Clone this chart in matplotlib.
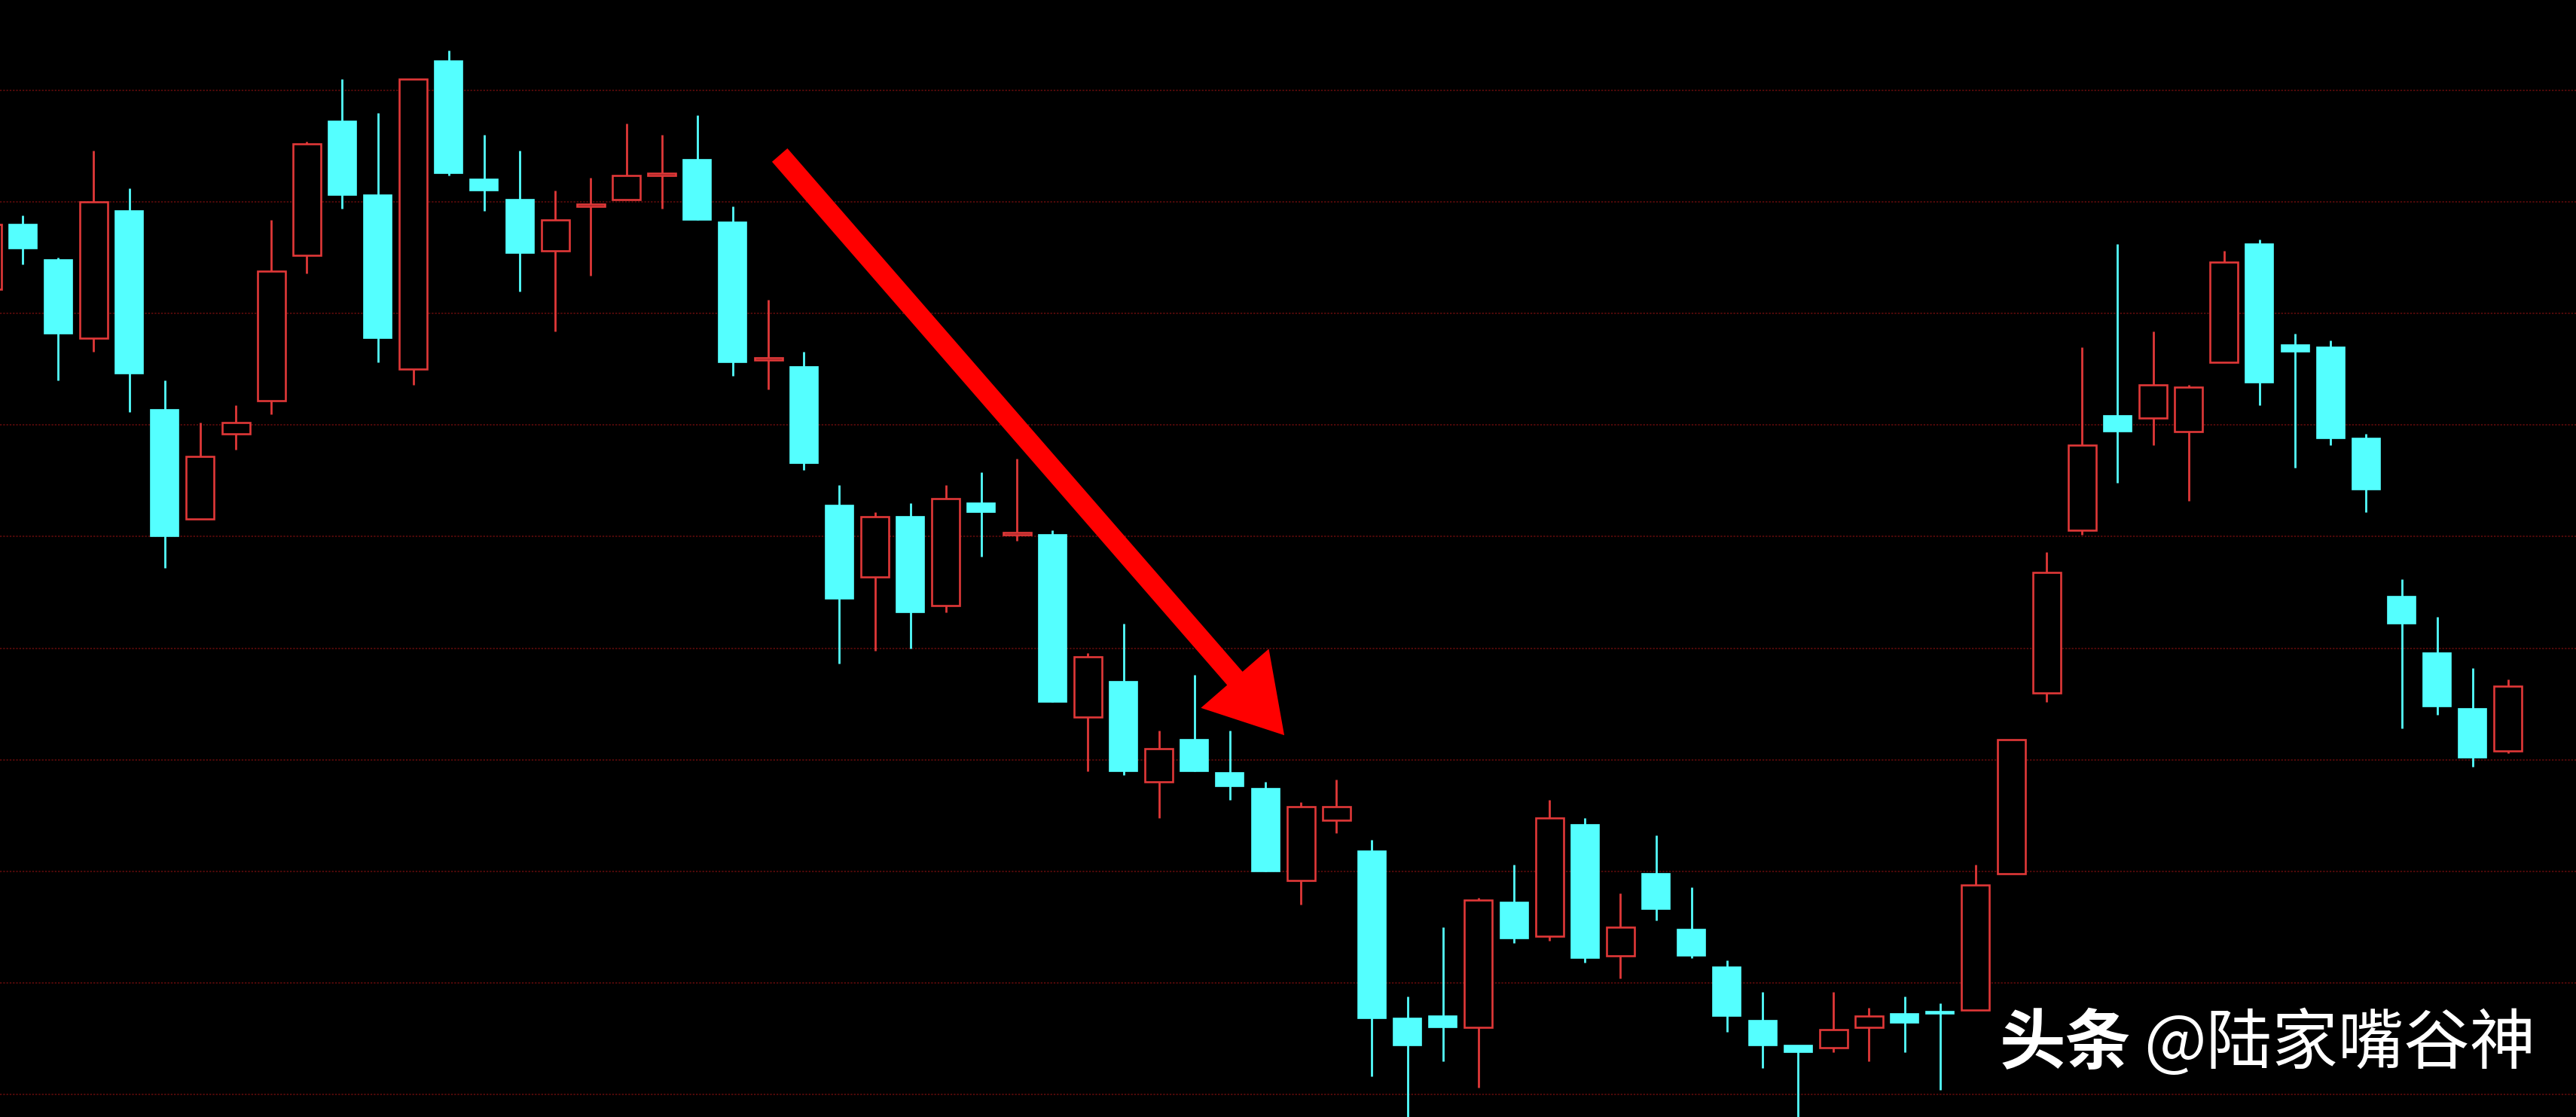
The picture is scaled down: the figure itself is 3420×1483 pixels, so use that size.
import matplotlib
matplotlib.use('Agg')
import matplotlib.pyplot as plt
from matplotlib.patches import FancyArrowPatch, ArrowStyle

plt.rcParams['font.family'] = ['Noto Sans CJK SC', 'DejaVu Sans']

# daily K-line (no axis labels in the picture, price scale is nominal)
opens = [13.61, 13.90, 13.74, 13.39, 13.96, 13.07, 12.58, 12.96, 13.11, 13.76,
         14.36, 14.03, 13.25, 14.63, 14.10, 14.01, 13.78, 13.98, 14.01, 14.12,
         14.19, 13.91, 13.29, 13.26, 12.64, 12.32, 12.59, 12.19, 12.65, 12.51,
         12.51, 11.69, 11.85, 11.40, 11.59, 11.44, 11.37, 10.96, 11.23, 11.09,
         10.34, 10.35, 10.30, 10.86, 10.71, 11.21, 10.62, 10.99, 10.74, 10.57,
         10.33, 10.22, 10.21, 10.30, 10.36, 10.37, 10.38, 10.99, 11.80, 12.53,
         13.04, 13.03, 12.97, 13.28, 13.81, 13.36, 13.35, 12.94, 12.23, 11.98,
         11.73, 11.54]
highs = [13.99, 13.94, 13.75, 14.23, 14.06, 13.20, 13.01, 13.09, 13.92, 14.27,
         14.55, 14.40, 14.55, 14.68, 14.30, 14.23, 14.05, 14.11, 14.35, 14.30,
         14.39, 13.98, 13.56, 13.33, 12.73, 12.61, 12.65, 12.73, 12.79, 12.85,
         12.53, 11.98, 12.11, 11.63, 11.88, 11.63, 11.40, 11.31, 11.41, 11.14,
         10.44, 10.75, 10.88, 11.03, 11.32, 11.24, 10.90, 11.16, 10.93, 10.60,
         10.46, 10.22, 10.46, 10.39, 10.44, 10.41, 11.03, 11.59, 12.43, 13.35,
         13.81, 13.42, 13.18, 13.78, 13.83, 13.41, 13.38, 12.96, 12.31, 12.14,
         11.91, 11.86]
lows = [13.61, 13.72, 13.20, 13.33, 13.06, 12.36, 12.58, 12.89, 13.05, 13.68,
        13.97, 13.28, 13.18, 14.12, 13.96, 13.60, 13.42, 13.67, 14.01, 13.97,
        13.92, 13.22, 13.16, 12.80, 11.93, 11.99, 12.00, 12.16, 12.41, 12.48,
        11.76, 11.45, 11.43, 11.24, 11.45, 11.32, 11.00, 10.85, 11.17, 10.08,
        9.84, 10.15, 10.03, 10.68, 10.69, 10.59, 10.52, 10.78, 10.61, 10.28,
        10.12, 9.84, 10.19, 10.15, 10.19, 10.02, 10.38, 10.99, 11.76, 12.51,
        12.74, 12.91, 12.66, 13.28, 13.09, 12.81, 12.91, 12.61, 11.64, 11.70,
        11.47, 11.53]
closes = [13.90, 13.79, 13.41, 14.00, 13.23, 12.50, 12.86, 13.01, 13.69, 14.26,
          14.03, 13.39, 14.55, 14.13, 14.05, 13.77, 13.92, 13.99, 14.12, 14.13,
          13.92, 13.28, 13.30, 12.83, 12.22, 12.59, 12.16, 12.67, 12.61, 12.52,
          11.76, 11.96, 11.45, 11.55, 11.45, 11.38, 11.00, 11.29, 11.29, 10.34,
          10.22, 10.30, 10.87, 10.70, 11.24, 10.61, 10.75, 10.83, 10.62, 10.35,
          10.22, 10.19, 10.29, 10.35, 10.32, 10.36, 10.94, 11.59, 12.34, 12.91,
          12.97, 13.18, 13.17, 13.73, 13.19, 13.33, 12.94, 12.71, 12.11, 11.74,
          11.51, 11.83]
grid_levels = [10.0, 10.5, 11.0, 11.5, 12.0, 12.5, 13.0, 13.5, 14.0, 14.5]

# arrow drawn on the chart: from (bar index, price) to (bar index, price)
arrow_start = (22.32, 14.21)
arrow_end = (36.53, 11.61)

UP = '#e03838'
DOWN = '#54ffff'

fig = plt.figure(figsize=(34.2, 14.83), dpi=100, facecolor='black')
ax = fig.add_axes([0, 0, 1, 1])
ax.set_facecolor('black')

w = 0.785
for i in range(len(opens)):
    o, h, l, c = opens[i], highs[i], lows[i], closes[i]
    top, bot = max(o, c), min(o, c)
    body = max(top - bot, 0.003)
    if c >= o:
        # hollow red candle, wick only outside the body
        ax.vlines(i, top, h, color=UP, lw=2.0, zorder=3)
        ax.vlines(i, l, bot, color=UP, lw=2.0, zorder=3)
        ax.bar(i, body, bottom=bot, width=w, facecolor='black', edgecolor=UP,
               linewidth=1.9, zorder=4)
    else:
        ax.vlines(i, l, h, color=DOWN, lw=2.0, zorder=3)
        ax.bar(i, body, bottom=bot, width=w, facecolor=DOWN, edgecolor=DOWN,
               linewidth=1.2, zorder=4)

ax.add_patch(FancyArrowPatch(arrow_start, arrow_end,
                             arrowstyle=ArrowStyle.Simple(head_length=72, head_width=86, tail_width=19.5),
                             mutation_scale=1, shrinkA=0, shrinkB=0,
                             facecolor='#ff0000', edgecolor='none', lw=0, zorder=6))

ax.set_xlim(0.36, 72.91)
ax.set_ylim(9.899, 14.905)
ax.set_yticks(grid_levels)
ax.set_xticks([])
ax.tick_params(length=0, labelleft=False)
ax.yaxis.grid(True, color='#680c0c', linestyle=(0, (1.5, 1.3)), linewidth=1.1)
ax.set_axisbelow(True)
for s in ax.spines.values():
    s.set_visible(False)

fig.text(0.7763, 0.0647, '头条', color='white', fontsize=63, fontweight='heavy',
         ha='left', va='center')
fig.text(0.8322, 0.0647, '@陆家嘴谷神', color='white', fontsize=63, fontweight='light',
         ha='left', va='center')

fig.savefig('out.png', dpi=100, facecolor='black')
